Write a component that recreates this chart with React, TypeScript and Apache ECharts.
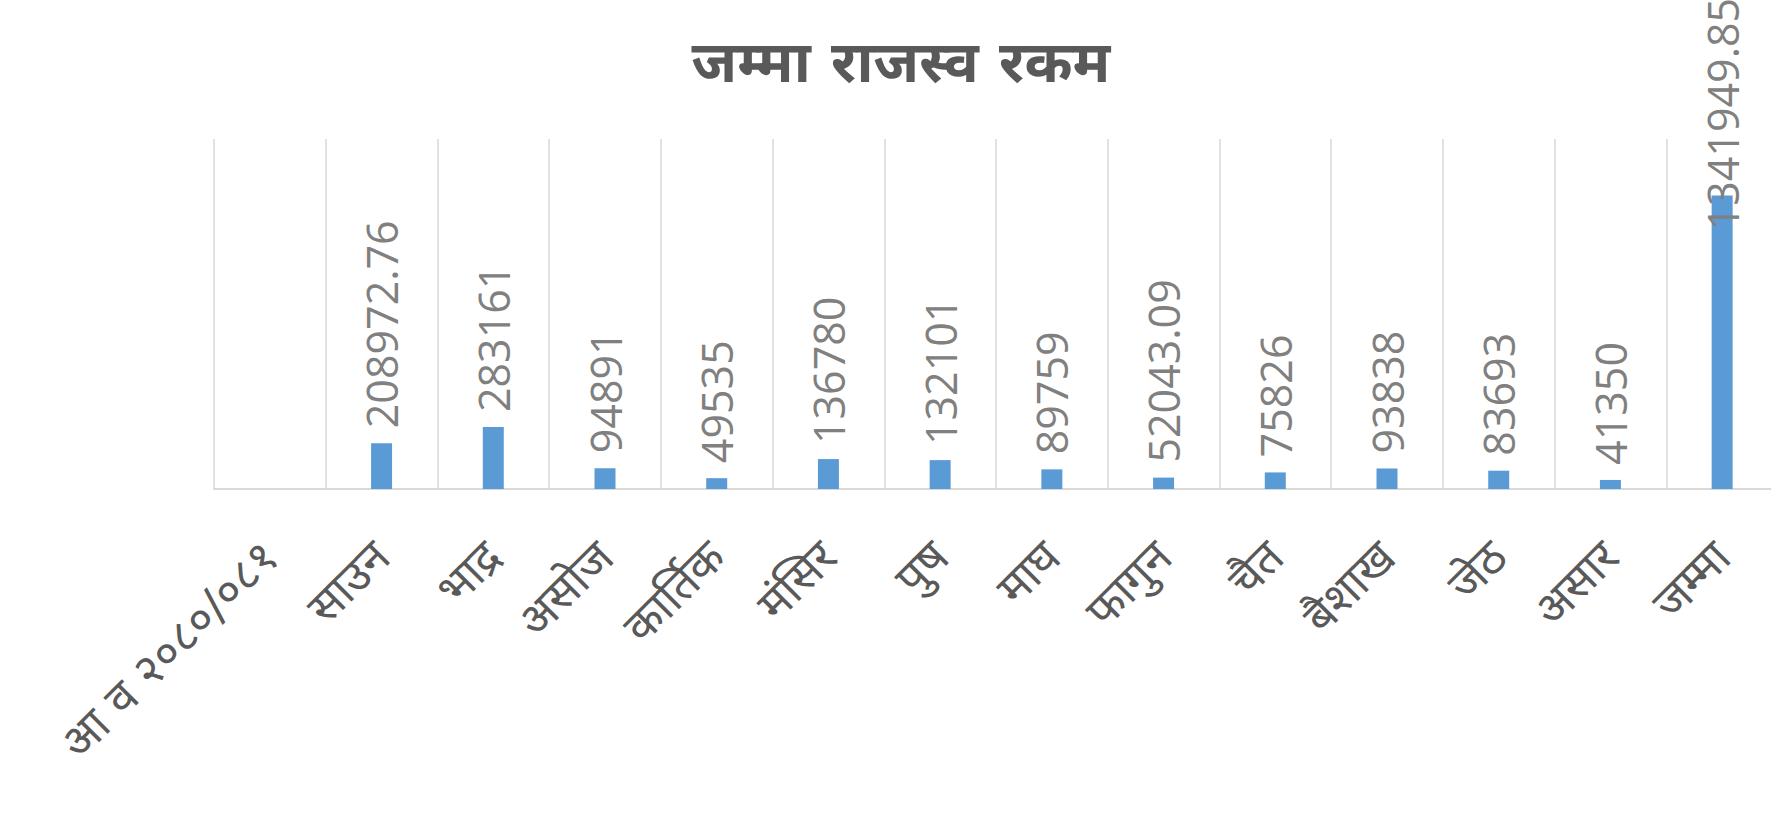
import React, { useEffect, useRef } from "react";
import * as echarts from "echarts";

const categories = [
  "आ व २०८०/०८१",
  "साउन",
  "भाद्र",
  "असोज",
  "कार्तिक",
  "मंसिर",
  "पुष",
  "माघ",
  "फागुन",
  "चैत",
  "बैशाख",
  "जेठ",
  "असार",
  "जम्मा",
];

const values: (number | null)[] = [
  null,
  208972.76,
  283161,
  94891,
  49535,
  136780,
  132101,
  89759,
  52043.09,
  75826,
  93838,
  83693,
  41350,
  1341949.85,
];

const titleText = "जम्मा राजस्व रकम";

export default function App() {
  const ref = useRef<HTMLDivElement>(null);
  useEffect(() => {
    if (!ref.current) return;
    const chart = echarts.init(ref.current, null, { renderer: "svg" });
    const fontStack = '"Noto Sans", "Open Sans", sans-serif';
    const data = values.map((v, i) => {
      if (v === null) return { value: null };
      if (i === values.length - 1) {
        return { value: v, label: { distance: -35 } };
      }
      return { value: v };
    });
    chart.setOption({
      animation: false,
      backgroundColor: "#ffffff",
      graphic: [
        {
          type: "text",
          x: 901,
          y: 62,
          style: {
            text: titleText,
            fill: "#595959",
            font: 'bold 58px "DejaVu Sans", "Noto Sans", sans-serif',
            textAlign: "center",
            textVerticalAlign: "middle",
          },
        },
      ],
      grid: { left: 214, top: 139, bottom: 329, right: 0, containLabel: false },
      xAxis: {
        type: "category",
        data: categories,
        boundaryGap: true,
        axisLine: { show: true, lineStyle: { color: "#d9d9d9", width: 2 } },
        axisTick: { show: false },
        splitLine: { show: true, lineStyle: { color: "#d9d9d9", width: 1.5 } },
        axisLabel: {
          rotate: 45,
          interval: 0,
          margin: 60,
          color: "#595959",
          fontSize: 46,
          fontFamily: '"DejaVu Sans", "Noto Sans", sans-serif',
        },
      },
      yAxis: {
        type: "value",
        min: 0,
        max: 1600000,
        show: false,
      },
      series: [
        {
          type: "bar",
          data,
          barWidth: 21,
          itemStyle: { color: "#5b9bd5" },
          label: {
            show: true,
            position: "top",
            distance: 15,
            rotate: 90,
            align: "left",
            verticalAlign: "middle",
            color: "#808080",
            fontSize: 43,
            fontFamily: '"Open Sans", sans-serif',
          },
        },
      ],
    });
    return () => chart.dispose();
  }, []);
  return (
    <div
      style={{
        position: "absolute",
        left: 0,
        top: 0,
        width: 1771,
        height: 818,
        overflow: "hidden",
      }}
    >
      <div ref={ref} style={{ width: 1778, height: 818 }} />
    </div>
  );
}
